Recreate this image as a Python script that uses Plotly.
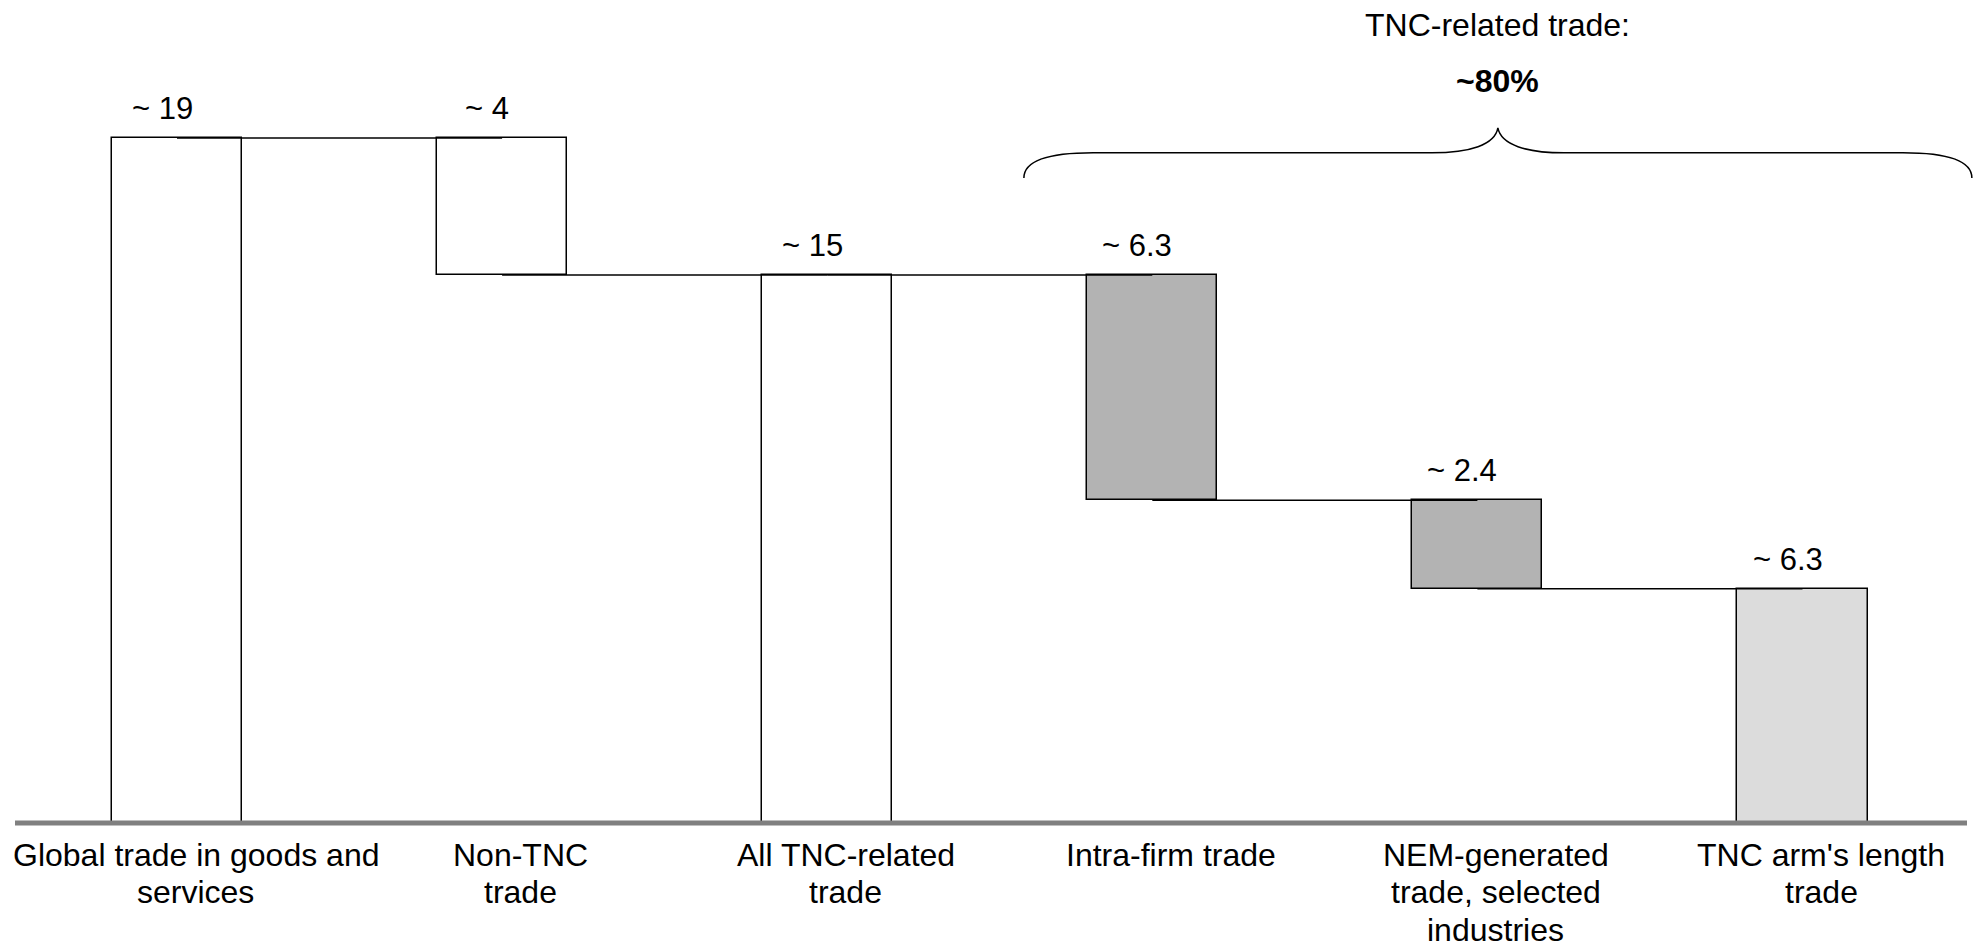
import plotly.graph_objects as go

# ---- data ----
categories = [
    "Global trade in goods and<br>services",
    "Non-TNC<br>trade",
    "All TNC-related<br>trade",
    "Intra-firm trade",
    "NEM-generated<br>trade, selected<br>industries",
    "TNC arm's length<br>trade",
]
value_labels = ["~ 19", "~ 4", "~ 15", "~ 6.3", "~ 2.4", "~ 6.3"]
bar_values = [19, 3.8, 15.2, 6.25, 2.45, 6.5]
measures = ["total", "relative", "total", "relative", "relative", "total"]
bar_colors = ["#ffffff", "#ffffff", "#ffffff", "#b3b3b3", "#b3b3b3", "#dcdcdc"]
brace_title = "TNC-related trade:"
brace_value = "~80%"

# ---- waterfall geometry from data ----
x_pos = list(range(len(categories)))
bases, tops, levels = [], [], []
level = 0.0
for v, m in zip(bar_values, measures):
    if m == "total":
        base, top = 0.0, v
        level = v
    else:
        top = level
        base = level - v
        level = base
    bases.append(base)
    tops.append(top)
    levels.append(level)

FONT = "Liberation Sans, Arial, sans-serif"
PX_PER_UNIT = 36.05
fig = go.Figure()

fig.add_trace(go.Bar(
    x=x_pos,
    y=[t - b for t, b in zip(tops, bases)],
    base=bases,
    width=0.4,
    marker=dict(color=bar_colors, line=dict(color="#000000", width=1.5)),
    hoverinfo="skip",
    showlegend=False,
))

# connectors between consecutive bars
cx, cy = [], []
for i in range(len(x_pos) - 1):
    cx += [x_pos[i], x_pos[i + 1], None]
    cy += [levels[i], levels[i], None]
fig.add_trace(go.Scatter(
    x=cx, y=cy, mode="lines",
    line=dict(color="#000000", width=1.5),
    hoverinfo="skip", showlegend=False,
))

# value labels
for xi, t, lab in zip(x_pos, tops, value_labels):
    fig.add_annotation(
        x=xi, y=t, text=lab, showarrow=False,
        xanchor="center", yanchor="bottom",
        xshift=-15, yshift=10,
        font=dict(family=FONT, size=31, color="#000000"),
    )

# category labels (one annotation per line for tighter line spacing)
for xi, cat in zip(x_pos, categories):
    for k, line in enumerate(cat.split("<br>")):
        fig.add_annotation(
            x=xi + 0.057, y=0, text=line, showarrow=False,
            xanchor="center", yanchor="middle",
            yshift=-(32 + 37.3 * k),
            font=dict(family=FONT, size=32, color="#000000"),
        )

# baseline
fig.add_shape(type="line", xref="paper", yref="y",
              x0=15 / 1977, x1=1967 / 1977, y0=0, y1=0,
              line=dict(color="#808080", width=5), layer="above")

# brace over TNC-related components
bx0, bx1 = 2.605, 5.521
bxm = 4.063
yb, yl, yt = 17.89, 18.59, 19.28
path = (
    f"M {bx0},{yb} C {bx0},18.39 2.685,{yl} 2.818,{yl} "
    f"L 3.860,{yl} C 3.977,{yl} 4.054,18.81 {bxm},{yt} "
    f"C 4.073,18.81 4.150,{yl} 4.266,{yl} "
    f"L 5.309,{yl} C 5.441,{yl} {bx1},18.39 {bx1},{yb}"
)
fig.add_shape(type="path", path=path, xref="x", yref="y",
              line=dict(color="#000000", width=1.5))

fig.add_annotation(x=bxm, y=22.14, text=brace_title, showarrow=False,
                   xanchor="center", yanchor="middle",
                   font=dict(family=FONT, size=32, color="#000000"))
fig.add_annotation(x=bxm, y=20.58, text=f"<b>{brace_value}</b>", showarrow=False,
                   xanchor="center", yanchor="middle",
                   font=dict(family=FONT, size=32, color="#000000"))

fig.update_layout(
    width=1977, height=946,
    margin=dict(l=0, r=0, t=0, b=116, pad=0),
    plot_bgcolor="#ffffff", paper_bgcolor="#ffffff",
    bargap=0,
    font=dict(family=FONT, size=32, color="#000000"),
)
fig.update_xaxes(
    range=[-177 / 325.1, 1800 / 325.1],
    showgrid=False, zeroline=False, showline=False, ticks="",
    showticklabels=False, automargin=False,
)
fig.update_yaxes(range=[-7 / PX_PER_UNIT, 823 / PX_PER_UNIT], visible=False,
                 automargin=False)

fig.write_html(
    "out.html",
    config={"displayModeBar": False},
    post_script="document.body.style.margin='0';document.body.style.overflow='hidden';",
)
